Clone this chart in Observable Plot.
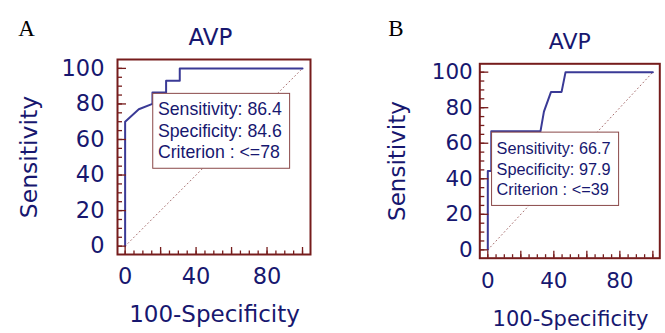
<!DOCTYPE html>
<html>
<head>
<meta charset="utf-8">
<script src="https://cdn.jsdelivr.net/npm/d3@7"></script>
<script src="https://cdn.jsdelivr.net/npm/@observablehq/plot@0.6"></script>
<style>
  html, body { margin: 0; padding: 0; background: #fff; }
  #wrap { position: relative; width: 665px; height: 333px; overflow: hidden; background: #fff; }
  .panel { position: absolute; top: 0; }
  .panel svg { overflow: visible; }
</style>
</head>
<body>
<div id="wrap">
  <div class="panel" id="pa" style="left:0px"></div>
  <div class="panel" id="pb" style="left:333px"></div>
</div>
<script>
// ---- data ----
const panelLabels = ["A", "B"];
const titles = ["AVP", "AVP"];
const xLabel = "100-Specificity";
const yLabel = "Sensitivity";

const fprA  = [0, 0, 7.7, 15.4, 15.4, 23.1, 23.1, 30.8, 30.8, 100];
const sensA = [0, 70, 77, 80, 86.4, 86.4, 93, 93, 100, 100];

const fprB  = [0, 0, 2.1, 2.1, 31.9, 34, 38.3, 44.7, 47.1, 100];
const sensB = [0, 44.4, 44.4, 66.7, 66.7, 77.8, 88.9, 88.9, 100, 100];

const criterionA = {fpr: 15.4, sens: 86.4, text: ["Sensitivity: 86.4", "Specificity: 84.6", "Criterion : <=78"]};
const criterionB = {fpr: 2.1, sens: 66.7, text: ["Sensitivity: 66.7", "Specificity: 97.9", "Criterion : <=39"]};

const diagonal = [0, 100];
const yTickLabels = [0, 20, 40, 60, 80, 100];
const xTickLabels = [0, 40, 80];
const majorTicks = [0, 20, 40, 60, 80, 100];
const minorTicks = [0, 5, 10, 15, 20, 25, 30, 35, 40, 45, 50, 55, 60, 65, 70, 75, 80, 85, 90, 95, 100];

// ---- styles ----
const navy = "#17176f";
const lineBlue = "#3a3a96";
const frameRed = "#761c1c";
const boxRed = "#8a4848";
const diagRed = "#a87070";
const bigFont = "DejaVu Sans";
const boxFont = "Liberation Sans";

// annotation box anchored at the criterion point (drawn through the plot's scales)
function critBox(crit, b) {
  return (index, scales) => {
    const x0 = scales.x(crit.fpr) + 0.8, y0 = scales.y(crit.sens) + 1.3;
    const ctx = document.createElement("canvas").getContext("2d");
    ctx.font = `${b.fs}px "${boxFont}"`;
    const w = d3.max(crit.text, t => ctx.measureText(t).width);
    const h = b.first + (crit.text.length - 1) * b.lh + b.padB;
    const g = d3.create("svg:g").attr("transform", `translate(${x0},${y0})`);
    g.append("rect").attr("x", 0).attr("y", 0).attr("width", w + b.padL + b.padR).attr("height", h)
      .attr("fill", "white").attr("stroke", boxRed).attr("stroke-width", 1);
    g.selectAll("text").data(crit.text).join("text")
      .attr("x", b.padL).attr("y", (d, i) => b.first + i * b.lh)
      .attr("text-anchor", "start")
      .attr("fill", navy).attr("font-family", boxFont).attr("font-size", b.fs)
      .text(d => d);
    return g.node();
  };
}

function panel(cfg) {
  const pts = cfg.fpr.map((x, i) => ({x, y: cfg.sens[i]}));
  const tickOpts = {tickFormat: null, fill: "none", stroke: frameRed, strokeWidth: 1.3, label: null};
  return Plot.plot({
    width: 332,
    height: 333,
    marginLeft: cfg.ml, marginRight: cfg.mr, marginTop: cfg.mt, marginBottom: cfg.mb,
    style: {color: navy, fontFamily: bigFont, background: "transparent", overflow: "visible"},
    x: {domain: cfg.xdom, axis: null},
    y: {domain: cfg.ydom, axis: null},
    marks: [
      Plot.line(diagonal, {x: d => d, y: d => d, stroke: diagRed, strokeWidth: 1, strokeDasharray: "1,3"}),
      Plot.line(pts, {x: "x", y: "y", stroke: lineBlue, strokeWidth: 2}),
      // inward minor / major ticks
      Plot.axisY(minorTicks, {anchor: "left", tickSize: -5, ...tickOpts}),
      Plot.axisY(majorTicks, {anchor: "left", tickSize: -9, ...tickOpts}),
      Plot.axisX(minorTicks, {anchor: "bottom", tickSize: -3.5, ...tickOpts}),
      Plot.axisX(majorTicks, {anchor: "bottom", tickSize: -7, ...tickOpts}),
      // tick labels
      Plot.axisY(yTickLabels, {anchor: "left", tickSize: 0, tickPadding: cfg.ypad, fontSize: cfg.tickFs, fill: navy, label: null}),
      Plot.axisX(xTickLabels, {anchor: "bottom", tickSize: 0, tickPadding: cfg.xpad, fontSize: cfg.tickFs, fill: navy, label: null}),
      Plot.frame({stroke: frameRed, strokeWidth: 2}),
      // titles & labels
      Plot.text([cfg.title], {frameAnchor: "top", dx: cfg.tdx, dy: cfg.tdy, fontSize: cfg.titleFs, fill: navy, lineAnchor: "middle", letterSpacing: "2.5px"}),
      Plot.text([yLabel], {frameAnchor: "left", rotate: -90, dx: cfg.ydx, dy: 0, fontSize: cfg.ylabFs, fill: navy, lineAnchor: "middle", textAnchor: "middle"}),
      Plot.text([xLabel], {frameAnchor: "bottom", dx: cfg.xdx, dy: cfg.xdy, fontSize: cfg.xlabFs, fill: navy, lineAnchor: "middle"}),
      Plot.text([cfg.label], {frameAnchor: "top-left", dx: cfg.ldx, dy: cfg.ldy, fontSize: 23, fontFamily: "Liberation Serif", fill: "#000", textAnchor: "middle", lineAnchor: "middle"}),
      // criterion box
      critBox(cfg.crit, cfg.box)
    ]
  });
}

document.getElementById("pa").append(panel({
  fpr: fprA, sens: sensA, crit: criterionA, title: titles[0], label: panelLabels[0],
  ml: 117, mr: 22, mt: 59, mb: 79,
  xdom: [-4.3, 104.5], ydom: [-4.7, 105],
  ypad: 13, xpad: 14, tickFs: 22.5,
  titleFs: 23, tdx: -3.5, tdy: -22,
  ylabFs: 23.5, ydx: -88,
  xlabFs: 23, xdx: 0.5, xdy: 60.5,
  ldx: -91, ldy: -31,
  box: {fs: 17.7, lh: 21.7, first: 21.5, padL: 5.2, padR: 7.8, padB: 10}
}));

document.getElementById("pb").append(panel({
  fpr: fprB, sens: sensB, crit: criterionB, title: titles[1], label: panelLabels[1],
  ml: 146.3, mr: 5.7, mt: 63.3, mb: 75.3,
  xdom: [-4.85, 104.2], ydom: [-4.7, 104.7],
  ypad: 7, xpad: 15, tickFs: 21.5,
  titleFs: 22, tdx: 0, tdy: -22,
  ylabFs: 23, ydx: -82.6,
  xlabFs: 21, xdx: 0.7, xdy: 60.6,
  ldx: -83.8, ldy: -35,
  box: {fs: 16.3, lh: 20.8, first: 21.7, padL: 5, padR: 8, padB: 10}
}));
</script>
</body>
</html>
